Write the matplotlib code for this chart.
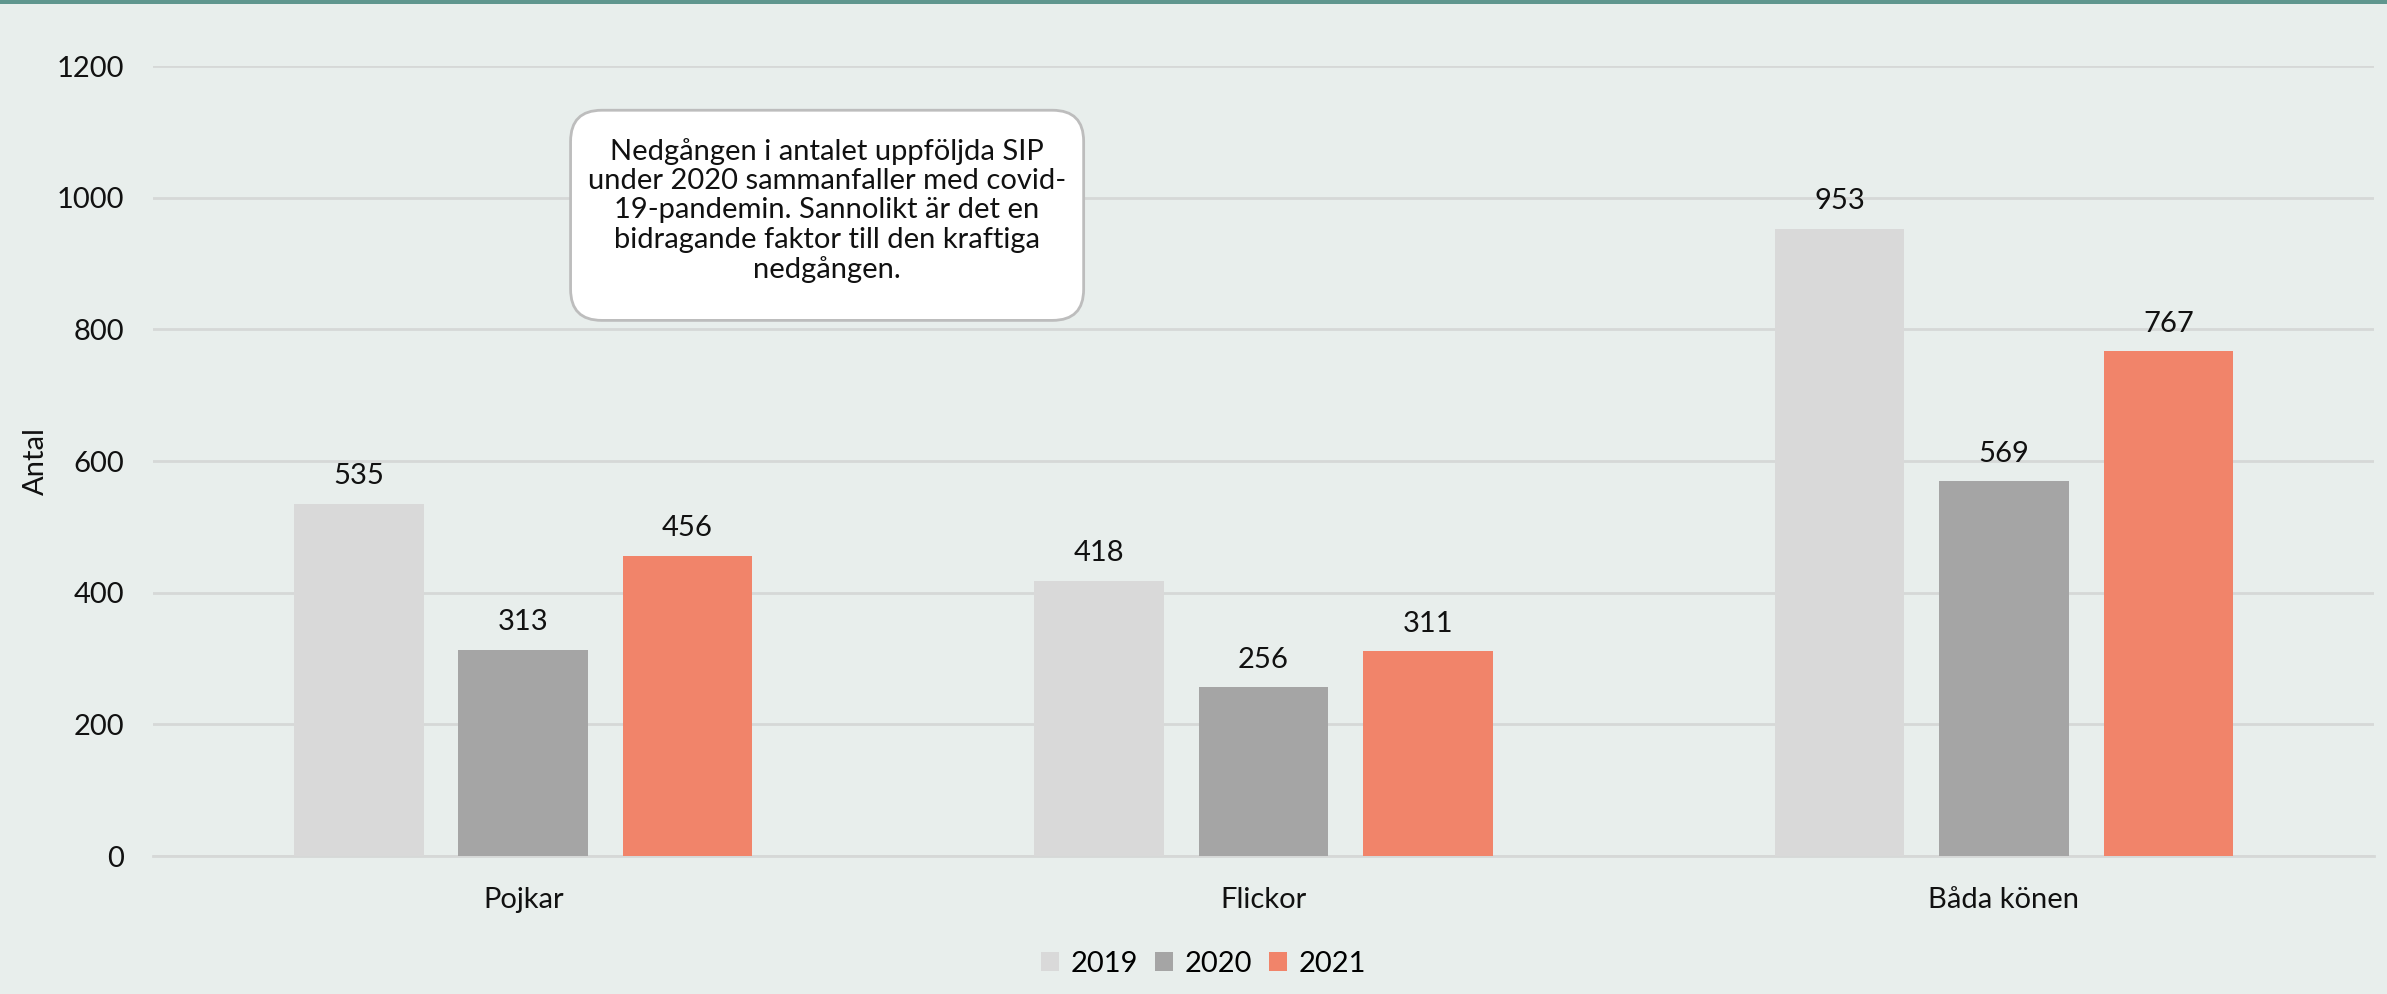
import matplotlib
matplotlib.use('Agg')
import matplotlib.pyplot as plt
import matplotlib.patches as mpatches
import numpy as np

plt.rcParams['font.family'] = ['Lato', 'DejaVu Sans']

categories = ['Pojkar', 'Flickor', 'Båda könen']
years = ['2019', '2020', '2021']
values_2019 = [535, 418, 953]
values_2020 = [313, 256, 569]
values_2021 = [456, 311, 767]
yticks = [0, 200, 400, 600, 800, 1000, 1200]
note = ("Nedgången i antalet uppföljda SIP\n"
        "under 2020 sammanfaller med covid-\n"
        "19-pandemin. Sannolikt är det en\n"
        "bidragande faktor till den kraftiga\n"
        "nedgången.")

BG = '#e8eeec'
COLORS = ['#d9d9d9', '#a5a5a5', '#f1846a']

fig = plt.figure(figsize=(23.87, 9.94), dpi=100)
fig.patch.set_facecolor(BG)
ax = fig.add_axes([0.0641, 0.1388, 0.9305, 0.7948])
ax.set_facecolor(BG)

# teal strip along the top edge
fig.add_artist(mpatches.Rectangle((0, 0.996), 1, 0.004, transform=fig.transFigure,
                                  facecolor='#5f968e', edgecolor='none'))

x = np.arange(len(categories))
width = 0.175
step = 0.222
for i, (vals, lab) in enumerate(zip([values_2019, values_2020, values_2021], years)):
    pos = x + (i - 1) * step
    bars = ax.bar(pos, vals, width=width, color=COLORS[i], label=lab, zorder=3)
    for b, v in zip(bars, vals):
        ax.text(b.get_x() + b.get_width() / 2, v + 22, str(v), ha='center', va='bottom',
                fontsize=21, color='#111111')

ax.set_xlim(-0.5, 2.5)
ax.set_ylim(0, 1200)
ax.set_yticks(yticks)
ax.set_xticks(x)
ax.set_xticklabels(categories)
ax.tick_params(axis='both', length=0, labelsize=21, colors='#111111')
ax.tick_params(axis='x', pad=22)
ax.tick_params(axis='y', pad=21)
ax.yaxis.grid(True, color='#d6d8d7', linewidth=2, zorder=0)
ax.set_axisbelow(True)
for s in ['top', 'right', 'left']:
    ax.spines[s].set_visible(False)
ax.spines['bottom'].set_color('#d6d8d7')
ax.spines['bottom'].set_linewidth(2)
ax.set_ylabel('Antal', fontsize=21, color='#111111')
ax.yaxis.set_label_coords(-0.047, 0.5)

# annotation box, drawn in axes fraction so the corners stay round
aspect = (0.7948 * 994) / (0.9305 * 2387)
box = mpatches.FancyBboxPatch((0.188, 0.678), 0.231, 0.266, transform=ax.transAxes,
                              boxstyle='round,pad=0,rounding_size=0.014',
                              mutation_aspect=1 / aspect,
                              facecolor='white', edgecolor='#bdbdbd', linewidth=2, zorder=5)
ax.add_patch(box)
ax.text(0.3035, 0.817, note, transform=ax.transAxes, ha='center', va='center',
        fontsize=21, linespacing=1.16, color='#111111', zorder=6)

ax.legend(loc='upper center', bbox_to_anchor=(0.473, -0.087), ncol=3, frameon=False,
          fontsize=21, handlelength=0.6, handleheight=0.6, handletextpad=0.4,
          columnspacing=0.6)

fig.savefig('out.png', dpi=100, facecolor=BG)
